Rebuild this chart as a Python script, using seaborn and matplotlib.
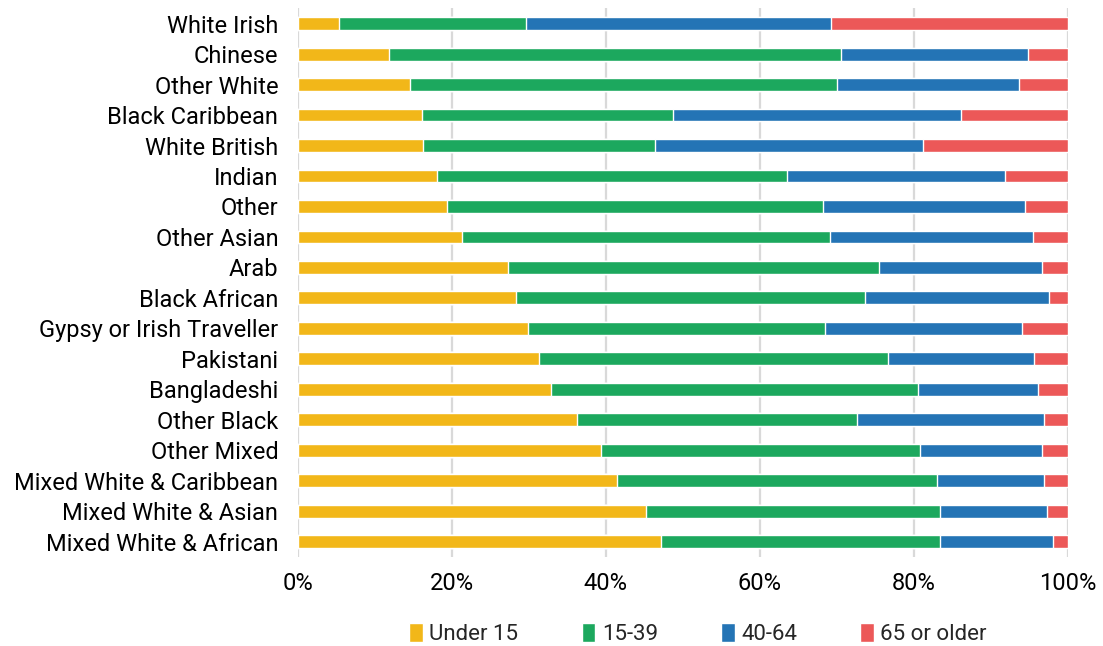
import matplotlib
matplotlib.use("Agg")
import matplotlib.pyplot as plt
import numpy as np
import pandas as pd
import seaborn as sns
from matplotlib.patches import Patch

groups = ["White Irish", "Chinese", "Other White", "Black Caribbean", "White British", "Indian",
          "Other", "Other Asian", "Arab", "Black African", "Gypsy or Irish Traveller", "Pakistani",
          "Bangladeshi", "Other Black", "Other Mixed", "Mixed White & Caribbean",
          "Mixed White & Asian", "Mixed White & African"]

under_15 = [5.3, 11.8, 14.6, 16.1, 16.3, 18.1, 19.4, 21.3, 27.3, 28.4, 29.9, 31.3, 32.9, 36.2, 39.4, 41.5, 45.2, 47.2]
age_15_39 = [24.3, 58.8, 55.4, 32.6, 30.1, 45.5, 48.8, 47.8, 48.2, 45.3, 38.6, 45.3, 47.6, 36.4, 41.4, 41.5, 38.2, 36.2]
age_40_64 = [39.7, 24.3, 23.7, 37.4, 34.8, 28.3, 26.3, 26.4, 21.1, 23.9, 25.6, 19.0, 15.7, 24.3, 15.8, 13.9, 13.9, 14.7]
over_65 = [30.7, 5.1, 6.3, 13.9, 18.8, 8.1, 5.5, 4.5, 3.4, 2.4, 5.9, 4.4, 3.8, 3.1, 3.4, 3.1, 2.7, 1.9]

series_names = ["Under 15", "15-39", "40-64", "65 or older"]
colors = ["#F2B719", "#1CA85E", "#2474B5", "#EC5858"]

df = pd.DataFrame({"group": groups, "Under 15": under_15, "15-39": age_15_39,
                   "40-64": age_40_64, "65 or older": over_65})
cum = df[series_names].cumsum(axis=1)
cum = cum.div(cum["65 or older"], axis=0) * 100

sns.set_style("white")
plt.rcParams["font.family"] = ["Roboto", "DejaVu Sans"]

fig = plt.figure(figsize=(11.03, 6.46), dpi=100)
ax = fig.add_axes([0.270, 0.138, 0.698, 0.849])

# draw cumulative totals back to front so they look stacked
for name, color in reversed(list(zip(series_names, colors))):
    sns.barplot(x=cum[name], y=df["group"], orient="h", color=color, width=0.42,
                saturation=1, ax=ax, zorder=3)

ax.set_xlim(0, 100)
ax.set_ylim(17.5, -0.5)
ax.set_xticks(np.arange(0, 101, 20))
ax.set_xticklabels([f"{v}%" for v in range(0, 101, 20)])
ax.xaxis.grid(True, color="#D9D9D9", linewidth=1.6, zorder=0)
ax.set_axisbelow(True)
ax.set_xlabel("")
ax.set_ylabel("")
for s in ax.spines.values():
    s.set_visible(False)
ax.tick_params(axis="both", length=0, labelsize=17, colors="black")
ax.tick_params(axis="x", pad=11)
ax.tick_params(axis="y", pad=14)

handles = [Patch(facecolor=c, label=n) for n, c in zip(series_names, colors)]
fig.legend(handles=handles, loc="center", bbox_to_anchor=(0.633, 0.018), ncol=4, frameon=False,
           fontsize=16, handlelength=0.6, handleheight=0.9, handletextpad=0.3, columnspacing=2.85)

fig.savefig("out.png", dpi=100)
